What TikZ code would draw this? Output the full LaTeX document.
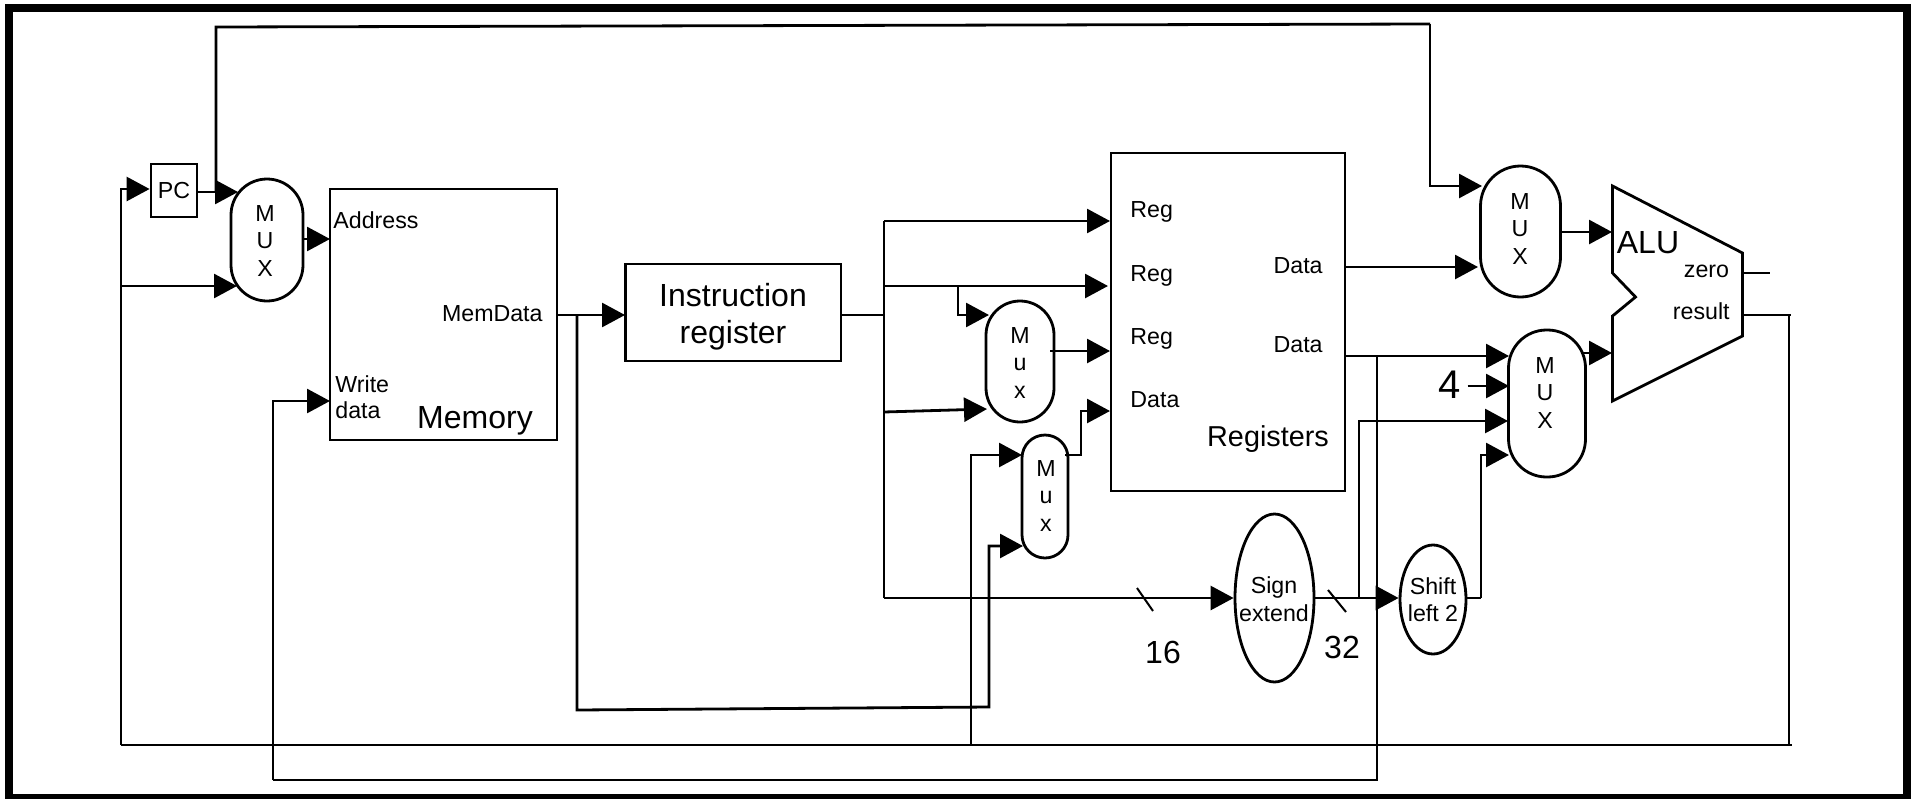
\documentclass[tikz,border=0pt]{standalone}
\usepackage{fontspec}
\setmainfont{Liberation Sans}
\usetikzlibrary{arrows.meta}
\usetikzlibrary{positioning}
\usetikzlibrary{shapes.geometric}

\begin{document}
\begin{tikzpicture}[x=0.5pt, y=-0.5pt, line width=1.4pt,
    wire/.style={-{Triangle[length=11.5pt, width=12pt]}},
    unit/.style={rectangle, draw, inner sep=0pt},
    muxbox/.style={rectangle, draw, inner sep=0pt, rounded corners=#1},
    oval/.style={ellipse, draw, inner sep=0pt},
    txt/.style={inner sep=0pt, font=\fontsize{11.6pt}{13.75pt}\selectfont, align=center},
    bigtxt/.style={inner sep=0pt, font=\fontsize{16pt}{18.5pt}\selectfont, align=center}]
        \useasboundingbox (0,0) rectangle (1911,798);

        % Outer frame
        \draw[line width=4pt] (9,8) rectangle (1907,798);

        % Main units
        \node[unit, minimum width=113.5pt, minimum height=125.5pt] (mem) at (443.5,314.5) {};
        \node[unit, minimum width=23pt, minimum height=26.5pt] (pc) at (174,190.5) {};
        \node[unit, minimum width=107.75pt, minimum height=48.5pt] (ir) at (733.25,312.5) {};
        \node[unit, minimum width=117pt, minimum height=169pt] (regs) at (1228,322) {};

        % Multiplexers
        \node[muxbox=18pt, minimum width=36pt, minimum height=61pt] (muxa) at (267,240) {};
        \node[muxbox=17pt, minimum width=34pt, minimum height=60.5pt] (muxb) at (1020,361.5) {};
        \node[muxbox=11.5pt, minimum width=23pt, minimum height=61.5pt] (muxc) at (1045,496.5) {};
        \node[muxbox=20pt, minimum width=40pt, minimum height=65.5pt] (muxd) at (1520.5,231.5) {};
        \node[muxbox=19pt, minimum width=38.5pt, minimum height=73.5pt] (muxe) at (1547,403.5) {};

        % Ovals
        \node[oval, minimum width=39.5pt, minimum height=84pt] (sign) at (1274.5,598) {};
        \node[oval, minimum width=33pt, minimum height=54.5pt] (shift) at (1433,599.5) {};

        % ALU outline
        \coordinate (alua) at (1612.5,186);
        \coordinate (alub) at (1742.5,253);
        \coordinate (aluc) at (1742.5,336);
        \coordinate (alud) at (1612.5,401);
        \coordinate (alue) at (1612.5,316);
        \coordinate (aluf) at (1635.5,297);
        \coordinate (alug) at (1612.5,273);
        \draw (alua) -- (alub) -- (aluc) -- (alud) -- (alue) -- (aluf) -- (alug) -- cycle;

        % Labels
        \node[txt] (pctxt) at (174,191) {PC};
        \node[txt] (muxatxt) at (265,241) {M\\U\\X};
        \node[txt] (muxbtxt) at (1020,363) {M\\u\\x};
        \node[txt] (muxctxt) at (1046,496) {M\\u\\x};
        \node[txt] (muxdtxt) at (1520,229) {M\\U\\X};
        \node[txt] (muxetxt) at (1545,393) {M\\U\\X};
        \node[txt, anchor=west] (addr) at (332,220) {Address};
        \node[txt, anchor=east] (memdata) at (544,314) {MemData};
        \node[txt, anchor=west, align=left] (wrdata) at (334,397) {Write\\[-1pt]data};
        \node[bigtxt] (memtxt) at (475,420.5) {Memory};
        \node[bigtxt] (irtxt) at (733,316.5) {Instruction\\register};
        \node[txt, anchor=west] (rega) at (1129,211.5) {Reg};
        \node[txt, anchor=west] (regb) at (1129,275.5) {Reg};
        \node[txt, anchor=west] (regc) at (1129,338.5) {Reg};
        \node[txt, anchor=west] (regd) at (1129,400) {Data};
        \node[txt, anchor=east] (dataa) at (1324,265.5) {Data};
        \node[txt, anchor=east] (datab) at (1324,344.5) {Data};
        \node[inner sep=0pt, font=\fontsize{14.4pt}{16pt}\selectfont] (regtxt) at (1268,439.5) {Registers};
        \node[bigtxt] (alutxt) at (1648,243) {ALU};
        \node[txt, anchor=east] (zero) at (1730.5,271.5) {zero};
        \node[txt, anchor=east] (result) at (1731,311.5) {result};
        \node[txt] (signtxt) at (1274,599) {Sign\\extend};
        \node[txt] (shifttxt) at (1433,599.5) {Shift\\left 2};
        \node[inner sep=0pt, font=\fontsize{20pt}{22pt}\selectfont] (four) at (1450,385) {4};
        \node[bigtxt] (n16) at (1163,652) {16};
        \node[bigtxt] (n32) at (1342,647) {32};

        % Bus ticks
        \coordinate (ticka) at (1137,588);
        \coordinate (tickb) at (1153,611);
        \coordinate (tickc) at (1328,590);
        \coordinate (tickd) at (1346,612);
        \draw[line width=1pt] (ticka) -- (tickb);
        \draw[line width=1pt] (tickc) -- (tickd);

        % Junctions and corners
        \coordinate (pcin) at (121,189);
        \coordinate (aluout) at (1789,315);
        \coordinate (fbr) at (1789,745);
        \coordinate (fbl) at (121,745);
        \coordinate (fbm) at (971,745);
        \coordinate (fbend) at (1792,745);
        \coordinate (topa) at (216,27);
        \coordinate (topb) at (1430,24);
        \coordinate (topc) at (1430,186);
        \coordinate (memj) at (577,315);
        \coordinate (memk) at (577,710);
        \coordinate (meml) at (989,707);
        \coordinate (irj) at (884,315);
        \coordinate (irt) at (884,221);
        \coordinate (irb) at (884,598);
        \coordinate (irc) at (884,286);
        \coordinate (ird) at (958,286);
        \coordinate (ire) at (958,315);
        \coordinate (irf) at (884,412);
        \coordinate (muxco) at (1081,455);
        \coordinate (muxcp) at (1081,411);
        \coordinate (datj) at (1377,356);
        \coordinate (datk) at (1377,780);
        \coordinate (datl) at (273,780);
        \coordinate (datm) at (273,401);
        \coordinate (sgnj) at (1359,598);
        \coordinate (sgnk) at (1359,421);
        \coordinate (shfa) at (1481,598);
        \coordinate (shfb) at (1481,455);
        \coordinate (zeroend) at (1770,273);

        % Arrow end points
        \coordinate (muxain) at (238,192);
        \coordinate (muxain2) at (237,286);
        \coordinate (memin) at (330,239);
        \coordinate (memwr) at (330,401);
        \coordinate (irin) at (625,315);
        \coordinate (rega1) at (1110,221);
        \coordinate (regb1) at (1108,286);
        \coordinate (regc1) at (1110,351);
        \coordinate (regd1) at (1110,411);
        \coordinate (muxb1) at (989,315);
        \coordinate (muxb2) at (987,409);
        \coordinate (muxc1) at (1022,455);
        \coordinate (muxc2) at (1023,546);
        \coordinate (muxd1) at (1482,186);
        \coordinate (muxd2) at (1478,267);
        \coordinate (muxe1) at (1509,356);
        \coordinate (muxe2) at (1509,386);
        \coordinate (muxe3) at (1508,421);
        \coordinate (muxe4) at (1509,455);
        \coordinate (alu1) at (1612,232);
        \coordinate (alu2) at (1612,353);

        % Connectors
        \draw[wire] (pcin |- fbl) -- (pcin) -- (pc.west |- pcin);
        \draw[wire] (pc.east |- muxain) -- (muxain);
        \draw (topa |- muxain) -- (topa) -- (topb);
        \draw[wire] (topb) -- (topc) -- (muxd1);
        \draw[wire] (fbl |- muxain2) -- (muxain2);
        \draw[wire] (muxa.east |- memin) -- (memin);
        \draw[wire] (mem.east |- irin) -- (irin);
        \draw (ir.east |- irj) -- (irj);
        \draw (irt) -- (irb);
        \draw[wire] (irt) -- (rega1);
        \draw[wire] (irc) -- (regb1);
        \draw[wire] (ird) -- (ire) -- (muxb1);
        \draw[wire] (irf) -- (muxb2);
        \draw[wire] (irb) -- (sign.west |- irb);
        \draw[wire] (1050,351) -- (regc1);
        \draw[wire] (1065,455) -- (muxco) -- (muxcp) -- (regd1);
        \draw[wire] (memj) -- (memk) -- (meml) -- (meml |- muxc2) -- (muxc2);
        \draw[wire] (fbm) -- (fbm |- muxc1) -- (muxc1);
        \draw (fbl) -- (fbend);
        \draw (alub |- aluout) -- (1791,315);
        \draw (aluout) -- (fbr);
        \draw[wire] (regs.east |- muxd2) -- (muxd2);
        \draw[wire] (muxd.east |- alu1) -- (alu1);
        \draw[wire] (regs.east |- muxe1) -- (muxe1);
        \draw[wire] (1583,353) -- (alu2);
        \draw (datj) -- (datk) -- (datl);
        \draw[wire] (datl) -- (datm) -- (memwr);
        \draw[wire] (four.east |- muxe2) ++(5,0) -- (muxe2);
        \draw[wire] (sign.east |- sgnj) -- (shift.west |- sgnj);
        \draw[wire] (sgnj) -- (sgnk) -- (muxe3);
        \draw (shift.east |- shfa) -- (shfa);
        \draw[wire] (shfa) -- (shfb) -- (muxe4);
        \draw (alub |- zeroend) -- (zeroend);
      \end{tikzpicture}
\end{document}
